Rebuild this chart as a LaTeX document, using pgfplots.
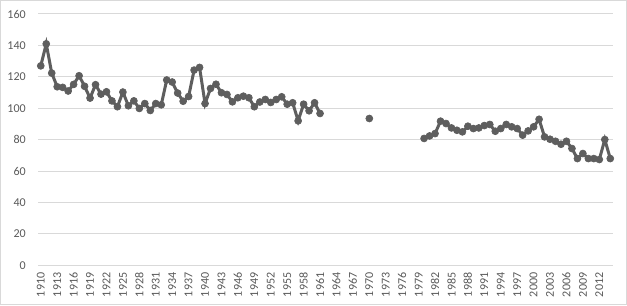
\documentclass[border=0pt]{standalone}
\usepackage{pgfplots}
\pgfplotsset{compat=1.18}
\usepackage{fontspec}
\setmainfont{Carlito}
\definecolor{linegray}{HTML}{5E5E5E}
\definecolor{gridgray}{HTML}{D9D9D9}
\definecolor{labelgray}{HTML}{595959}
\begin{document}
\begin{tikzpicture}
\begin{axis}[
  scale only axis,
  width=430.5pt, height=188.25pt,
  xmin=1909.5, xmax=2014.5,
  ymin=0, ymax=160,
  ytick={0,20,...,160},
  xtick={1910,1913,...,2012},
  axis line style={draw=none},
  major tick length=0pt,
  ymajorgrids,
  grid style={color=gridgray, line width=0.75pt},
  unbounded coords=jump,
  tick label style={font=\fontsize{9}{11}\selectfont, text=labelgray},
  /pgf/number format/1000 sep={},
  /pgf/number format/assume math mode=true,
  yticklabel style={anchor=east, inner sep=0pt, xshift=-9pt},
  xticklabel style={rotate=90, anchor=east, inner sep=0pt, xshift=-5.25pt},
  clip=false,
]
\coordinate (O) at (rel axis cs:0,0);
\coordinate (T) at (rel axis cs:1,1);
\addplot[color=linegray, line width=2.25pt, mark=*, mark size=2.6pt, mark options={fill=linegray, draw=linegray, line width=0.5pt}] coordinates {
(1910,127) (1911,141) (1912,122.4) (1913,113.7) (1914,113.3) (1915,111) (1916,115.2) (1917,120.7) (1918,114) (1919,106.5)
(1920,115) (1921,109) (1922,110.5) (1923,104.7) (1924,101) (1925,110.3) (1926,101.6) (1927,104.7) (1928,99.9) (1929,103)
(1930,98.6) (1931,103) (1932,102.2) (1933,118) (1934,116.7) (1935,109.7) (1936,104.5) (1937,107.5) (1938,124.3) (1939,126)
(1940,103) (1941,112.6) (1942,115.3) (1943,109.9) (1944,108.8) (1945,104.1) (1946,106.7) (1947,107.7) (1948,106.7) (1949,101)
(1950,104) (1951,105.6) (1952,103.7) (1953,105.6) (1954,107.3) (1955,102.6) (1956,103.5) (1957,92) (1958,102.6) (1959,98.4)
(1960,103.5) (1961,96.7) (1962,nan)
(1969,nan) (1970,93.5) (1971,nan)
(1979,nan) (1980,80.8) (1981,82.4) (1982,83.9) (1983,91.8) (1984,90.3) (1985,87.5) (1986,86) (1987,85) (1988,88.6) (1989,87.1)
(1990,87.5) (1991,89) (1992,89.7) (1993,85.4) (1994,87.1) (1995,89.7) (1996,88.2) (1997,87.1) (1998,82.9) (1999,85.6)
(2000,88.2) (2001,93) (2002,81.8) (2003,80.3) (2004,79) (2005,77.1) (2006,79) (2007,74.4) (2008,68) (2009,71.2)
(2010,68) (2011,68) (2012,67.4) (2013,80.1) (2014,68)
};
\end{axis}
\draw[gridgray, line width=0.75pt] ([xshift=-28.1pt,yshift=-29.6pt]O) rectangle ([xshift=10.1pt,yshift=10.1pt]T);
\end{tikzpicture}
\end{document}
